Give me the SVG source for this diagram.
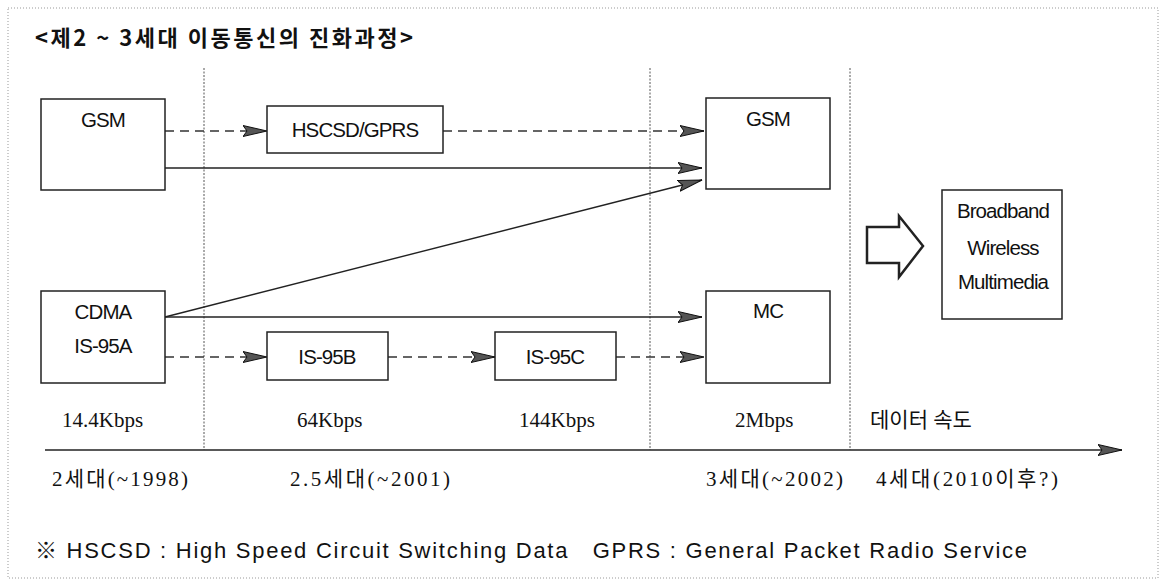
<svg xmlns="http://www.w3.org/2000/svg" width="1165" height="583" viewBox="0 0 1165 583">
<style>
.bg{fill:#fff}
.border{fill:none;stroke:#999;stroke-width:1;stroke-dasharray:1 2}
.div{stroke:#555;stroke-width:1;stroke-dasharray:2 1.5}
.box{fill:#fff;stroke:#222;stroke-width:1.5}
.sans{font-family:"Liberation Sans",Arial,sans-serif;font-size:20.5px;fill:#111;text-anchor:middle;letter-spacing:-0.9px}
.ser{font-family:"Liberation Serif","Noto Sans CJK KR",serif;font-size:21px;fill:#111}
.title{font-family:"Noto Sans CJK KR",sans-serif;font-size:22px;font-weight:bold;fill:#111;white-space:pre}
.foot{font-family:"Liberation Sans","Noto Sans CJK KR",sans-serif;font-size:22px;fill:#111;white-space:pre}
.solid{stroke:#222;stroke-width:1.4;fill:none}
.dash{stroke:#333;stroke-width:1.4;fill:none;stroke-dasharray:9 6}
</style>
<defs>
<marker id="ah" markerUnits="userSpaceOnUse" markerWidth="26" markerHeight="13" refX="24" refY="6" orient="auto">
<path d="M0,0.5 L24,6 L0,11.5 L4,6 Z" fill="#555" stroke="#111" stroke-width="1"/>
</marker>
</defs>
<rect class="bg" x="0" y="0" width="1165" height="583"/>
<rect class="border" x="8" y="8" width="1150" height="570"/>
<text class="title" x="35" y="46" textLength="378">&lt;제2 ~ 3세대 이동통신의 진화과정&gt;</text>

<g id="dividers">
<line class="div" x1="204" y1="68" x2="204" y2="450"/>
<line class="div" x1="650" y1="68" x2="650" y2="450"/>
<line class="div" x1="850" y1="68" x2="850" y2="450"/>
</g>

<g id="connectors">
<line class="dash" x1="165" y1="131" x2="267" y2="131" marker-end="url(#ah)"/>
<line class="dash" x1="443" y1="131" x2="704" y2="131" marker-end="url(#ah)"/>
<line class="solid" x1="165" y1="168" x2="702" y2="168" marker-end="url(#ah)"/>
<line class="solid" x1="165" y1="317" x2="702" y2="180" marker-end="url(#ah)"/>
<line class="solid" x1="165" y1="317" x2="702" y2="317" marker-end="url(#ah)"/>
<line class="dash" x1="165" y1="357" x2="267" y2="357" marker-end="url(#ah)"/>
<line class="dash" x1="388" y1="357" x2="495" y2="357" marker-end="url(#ah)"/>
<line class="dash" x1="616" y1="357" x2="704" y2="357" marker-end="url(#ah)"/>
<line class="solid" x1="45" y1="450" x2="1122" y2="450" marker-end="url(#ah)"/>
</g>

<g id="gsm2">
<rect class="box" x="41" y="99" width="124" height="91"/>
<text class="sans" x="103" y="127">GSM</text>
</g>
<g id="hscsd">
<rect class="box" x="267" y="106" width="176" height="47"/>
<text class="sans" x="355" y="137">HSCSD/GPRS</text>
</g>
<g id="gsm3">
<rect class="box" x="706" y="98" width="124" height="91"/>
<text class="sans" x="768" y="126">GSM</text>
</g>
<g id="cdma">
<rect class="box" x="41" y="291" width="124" height="92"/>
<text class="sans" x="103" y="319">CDMA</text>
<text class="sans" x="103" y="353">IS-95A</text>
</g>
<g id="is95b">
<rect class="box" x="267" y="332" width="121" height="48"/>
<text class="sans" x="327" y="364">IS-95B</text>
</g>
<g id="is95c">
<rect class="box" x="495" y="332" width="121" height="48"/>
<text class="sans" x="555" y="364">IS-95C</text>
</g>
<g id="mc">
<rect class="box" x="706" y="291" width="124" height="92"/>
<text class="sans" x="768" y="318">MC</text>
</g>
<g id="bigarrow">
<path d="M867,227 L899,227 L899,216 L923,246 L899,277 L899,263 L867,263 Z" fill="#fff" stroke="#222" stroke-width="2.5" stroke-linejoin="miter"/>
</g>
<g id="bwm">
<rect class="box" x="942" y="190" width="120" height="129"/>
<text class="sans" x="1003" y="218">Broadband</text>
<text class="sans" x="1003" y="255">Wireless</text>
<text class="sans" x="1003" y="289">Multimedia</text>
</g>

<g id="labels">
<text class="ser" x="62" y="427">14.4Kbps</text>
<text class="ser" x="297" y="427">64Kbps</text>
<text class="ser" x="519" y="427">144Kbps</text>
<text class="ser" x="735" y="427">2Mbps</text>
<text class="ser" x="870" y="427">데이터 속도</text>
<text class="ser" x="52" y="486" textLength="136">2세대(~1998)</text>
<text class="ser" x="290" y="486" textLength="160">2.5세대(~2001)</text>
<text class="ser" x="706" y="486" textLength="137">3세대(~2002)</text>
<text class="ser" x="876" y="486" textLength="182">4세대(2010이후?)</text>
</g>
<text class="foot" x="35" y="558" textLength="992">※ HSCSD : High Speed Circuit Switching Data   GPRS : General Packet Radio Service</text>
</svg>
